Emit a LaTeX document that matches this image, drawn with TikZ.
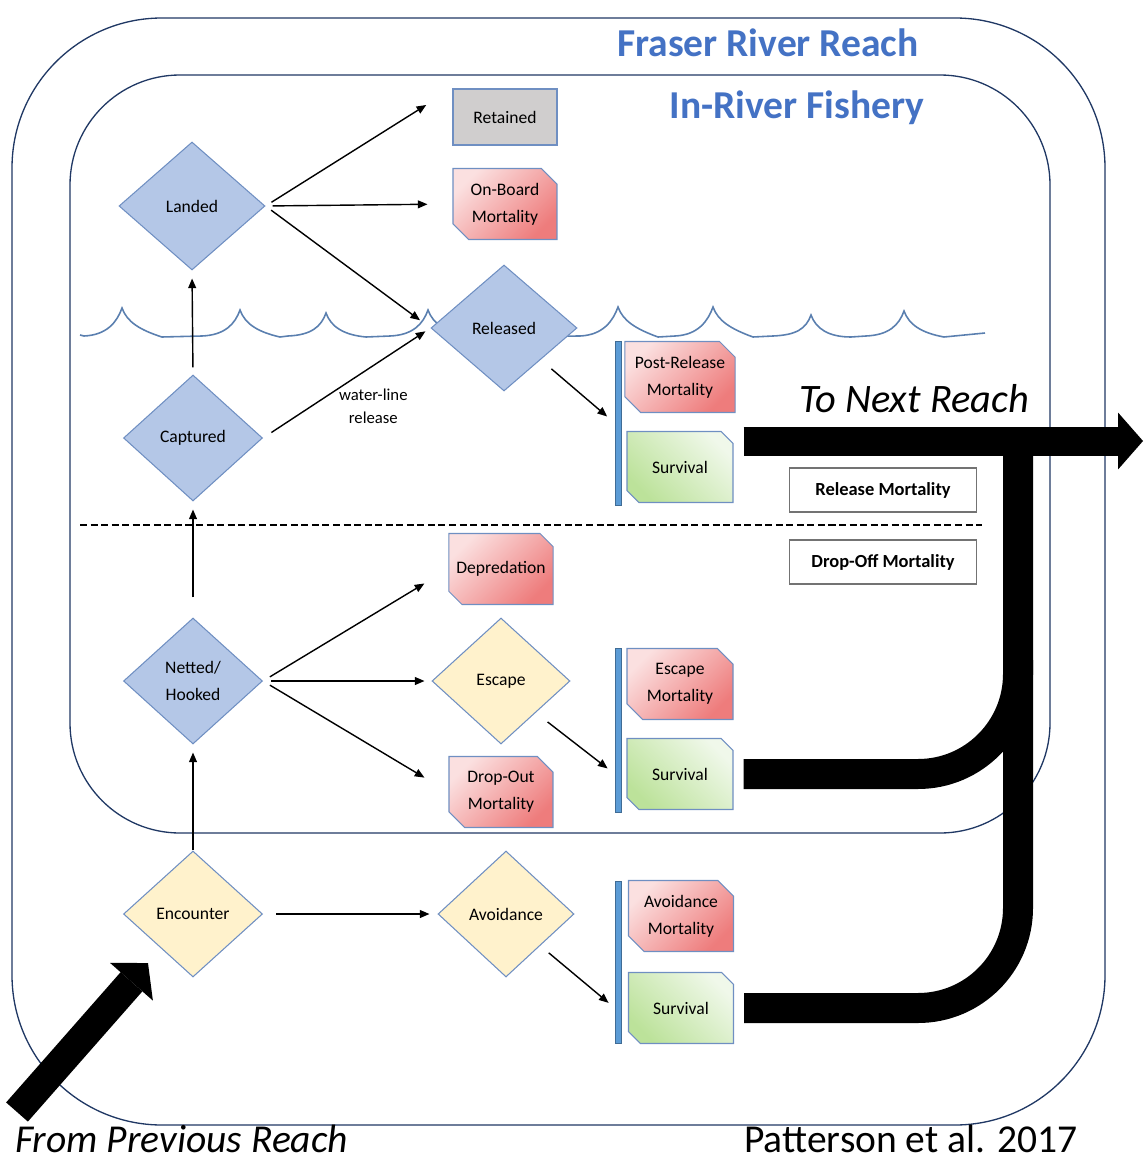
\documentclass[tikz,border=0pt]{standalone}
\usepackage{fontspec}
\setmainfont{Carlito}
\usetikzlibrary{
    arrows.meta,
    calc,
    shapes.geometric,
    shapes.misc
}
\definecolor{framenavy}{HTML}{203864}
\definecolor{titleblue}{HTML}{4472C4}
\definecolor{edgeblue}{HTML}{6F8FC2}
\definecolor{decblue}{HTML}{B4C7E7}
\definecolor{decyellow}{HTML}{FFF2CC}
\definecolor{keepgray}{HTML}{D0CECE}
\definecolor{mortlight}{HTML}{FBE0E0}
\definecolor{mortdark}{HTML}{EE7C7C}
\definecolor{survlight}{HTML}{F0F8EA}
\definecolor{survdark}{HTML}{BCE29A}
\definecolor{barblue}{HTML}{5B9BD5}
\definecolor{wavecol}{HTML}{5A7FAF}
\tikzset{
    decision/.style = {
        diamond,
        draw = edgeblue,
        line width = 0.6pt,
        fill = decblue,
        inner sep = 0pt,
        minimum width = 2.78cm,
        minimum height = 2.52cm,
        align = center,
        font = \fontsize{10}{15.5}\selectfont
    },
    avoid/.style = {decision, fill = decyellow},
    outcome/.style = {
        chamfered rectangle,
        chamfered rectangle corners = {north east, south west},
        chamfered rectangle xsep = 0.2cm,
        draw = edgeblue,
        line width = 0.6pt,
        inner sep = 0pt,
        minimum width = 2.1cm,
        minimum height = 1.42cm,
        align = center,
        font = \fontsize{10}{15.5}\selectfont
    },
    mortality/.style = {outcome, top color = mortlight, bottom color = mortdark, shading angle = 45},
    survival/.style = {outcome, top color = survlight, bottom color = survdark, shading angle = -45},
    splitbar/.style = {
        rectangle,
        draw = barblue!70!black,
        line width = 0.3pt,
        fill = barblue,
        inner sep = 0pt,
        minimum width = 0.12cm,
        minimum height = 3.28cm
    },
    legendbox/.style = {
        rectangle,
        draw = black!55,
        line width = 0.8pt,
        fill = white,
        minimum width = 3.74cm,
        minimum height = 0.88cm,
        font = \fontsize{10.5}{12}\selectfont\bfseries
    },
    flow/.style = {->, line width = 0.8pt},
    bigarrow/.style = {
        line width = 0.58cm,
        -{Triangle[length = 0.5cm, width = 1.14cm, line width = 0pt]}
    },
    bigbar/.style = {line width = 0.6cm, rounded corners = 2cm},
    frame/.style = {draw = framenavy, line width = 0.75pt}
}

\begin{document}
\begin{tikzpicture}[
                        > = {Triangle[length = 5.5pt, width = 4.5pt]},
                        x = 0.02cm,
                        y = -0.02cm
                    ]
    \useasboundingbox (0,0) rectangle (1143,1162);

    \draw[frame, rounded corners = 3cm] (12,18) rectangle (1105,1125);
    \draw[frame, rounded corners = 2.2cm] (70,75) rectangle (1050,833);

    % water line
    \draw[wavecol, line width = 0.9pt] (80,335)
        \foreach \p/\t in {122/308, 240/310, 326/313, 428/310, 618/307, 713/307, 811/315, 904/311} {
            -- (\p-38,336) .. controls (\p-15,335) and (\p-5,\t+14) .. (\p,\t)
            .. controls (\p+5,\t+14) and (\p+18,\t+22) .. (\p+40,337)
        } -- (985,333);
    \draw[dashed, line width = 1pt, dash pattern = on 4pt off 2pt] (80,525) -- (982,525);

    \node[decision, minimum width = 2.92cm, minimum height = 2.56cm] (landed) at (192,206) {Landed};
    \node[decision] (captured) at (193,438) {Captured};
    \node[decision] (netted) at (193,681) {Netted/\\Hooked};
    \node[avoid] (encounter) at (193,914) {Encounter};
    \node[decision, minimum width = 2.92cm] (released) at (504,328) {Released};
    \node[avoid, minimum width = 2.76cm] (escape) at (501,681) {Escape};
    \node[avoid, minimum width = 2.72cm] (avoidance) at (506,914) {Avoidance};

    \node[rectangle, draw = edgeblue, line width = 0.6pt, fill = keepgray,
          minimum width = 2.08cm, minimum height = 1.12cm,
          font = \fontsize{10}{12}\selectfont] (retained) at (505,117) {Retained};
    \node[mortality, minimum width = 2.08cm] (onboard) at (505,204) {On-Board\\Mortality};
    \node[mortality, minimum width = 2.08cm] (depred) at (501,569) {Depredation};
    \node[mortality, minimum width = 2.08cm] (dropout) at (501,792) {Drop-Out\\Mortality};

    \node[splitbar] (bar1) at (618,423) {};
    \node[splitbar] (bar2) at (618,730) {};
    \node[splitbar, minimum height = 3.24cm] (bar3) at (618,962) {};

    \node[mortality, minimum width = 2.12cm] (postrel) at (680,377) {Post-Release\\Mortality};
    \node[survival, minimum width = 2.12cm] (surv1) at (680,467) {Survival};
    \node[mortality, minimum width = 2.12cm] (escmort) at (680,684) {Escape\\Mortality};
    \node[survival, minimum width = 2.12cm] (surv2) at (680,774) {Survival};
    \node[mortality] (avmort) at (681,916) {Avoidance\\Mortality};
    \node[survival] (surv3) at (681,1008) {Survival};

    \node[legendbox] (relmort) at (883,490) {Release Mortality};
    \node[legendbox] (dropmort) at (883,562) {Drop-Off Mortality};

    \path[flow] (encounter.north) edge[shorten >= 0.16cm] (netted.south)
                (netted.north) edge[shorten <= 0.4cm, shorten >= 0.16cm] (captured.south)
                (captured.north) edge[shorten <= 0.14cm, shorten >= 0.16cm] (landed.south);
    \path[flow] (landed.east) edge[shorten <= 0.14cm, shorten >= 0.62cm] (retained.north west)
                (landed.east) edge[shorten <= 0.14cm, shorten >= 0.5cm] (onboard.west)
                (landed.east) edge[shorten <= 0.14cm, shorten >= 0.26cm] (released.west)
                (captured.east) edge[shorten <= 0.2cm, shorten >= 0.12cm]
                    node[pos = 0.45, anchor = north west, align = center, inner sep = 0pt,
                         font = \fontsize{9.5}{13}\selectfont] (waterline) {water-line\\release} (released.west);
    \path[flow] (netted.east) edge[shorten <= 0.16cm, shorten >= 0.56cm] (depred.west)
                (netted.east) edge[shorten <= 0.16cm, shorten >= 0.14cm] (escape.west)
                (netted.east) edge[shorten <= 0.16cm, shorten >= 0.56cm] (dropout.west)
                (encounter.east) edge[shorten <= 0.26cm, shorten >= 0.16cm] (avoidance.west);
    \path[flow] (released.south east) edge[shorten <= 0.28cm, shorten >= 0.2cm] (bar1.west)
                (escape.south east) edge[shorten <= 0.3cm, shorten >= 0.18cm] (bar2.west |- surv2.west)
                (avoidance.south east) edge[shorten <= 0.22cm, shorten >= 0.16cm] (bar3.west |- surv3.west);

    % reach arrows
    \coordinate (nextreach) at (1143,441);
    \coordinate (jtop) at (1018,660);
    \coordinate (jjoin) at (1018,441);
    \coordinate (prevreach) at (17,1112);
    \coordinate (entry) at (148,963);
    \draw[bigbar, shorten <= 0.2cm] (surv3.east) -| (jjoin);
    \draw[bigbar, shorten <= 0.2cm] (surv2.east) -| (jtop);
    \draw[bigarrow, shorten <= 0.2cm] (surv1.east |- nextreach) -- (nextreach);
    \draw[bigarrow] (prevreach) -- (entry);

    \node[font = \fontsize{22.5}{26}\selectfont\bfseries, text = titleblue, anchor = base] (fraser) at (768,57) {Fraser River Reach};
    \node[font = \fontsize{22.5}{26}\selectfont\bfseries, text = titleblue, anchor = base] (fishery) at (797,119) {In-River Fishery};
    \node[font = \fontsize{23}{26}\selectfont\itshape, anchor = base] (tonext) at (914,412) {To Next Reach};
    \node[font = \fontsize{22.5}{26}\selectfont\itshape, anchor = base west, inner sep = 0pt] (fromprev) at (15,1152) {From Previous Reach};
    \node[font = \fontsize{22.5}{26}\selectfont, anchor = base, inner sep = 0pt] (citation) at (911,1152) {Patterson et al. 2017};
\end{tikzpicture}
\end{document}
